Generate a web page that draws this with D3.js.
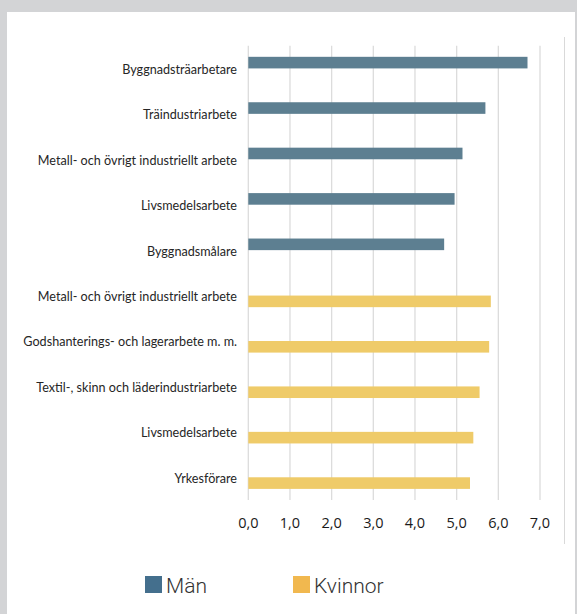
<!DOCTYPE html>
<html>
<head>
<meta charset="utf-8">
<script src="https://cdn.jsdelivr.net/npm/d3@7"></script>
<style>
  body { margin: 0; background: #d3d4d6; }
  svg { display: block; }
</style>
</head>
<body>
<div id="chart"></div>
<script>
// categories top to bottom, and which series each belongs to
var categories = [
    "Byggnadsträarbetare",
    "Träindustriarbete",
    "Metall- och övrigt industriellt arbete",
    "Livsmedelsarbete",
    "Byggnadsmålare",
    "Metall- och övrigt industriellt arbete ",
    "Godshanterings- och lagerarbete m. m.",
    "Textil-, skinn och läderindustriarbete",
    "Livsmedelsarbete ",
    "Yrkesförare"
];
var series = ["Män", "Kvinnor"];
var seriesOf = ["Män", "Män", "Män", "Män", "Män", "Kvinnor", "Kvinnor", "Kvinnor", "Kvinnor", "Kvinnor"];
var values = [6.7, 5.69, 5.14, 4.95, 4.7, 5.82, 5.78, 5.55, 5.4, 5.32];
var ticks = [0, 1, 2, 3, 4, 5, 6, 7];

var width = 577, height = 614;

var svg = d3.select("#chart")
    .append("svg")
    .attr("width", width)
    .attr("height", height);

// white panel on the grey page
svg.append("rect")
    .attr("x", 7).attr("y", 12)
    .attr("width", 568).attr("height", height - 12)
    .attr("fill", "#fff");

// chart area right border
svg.append("line")
    .attr("x1", 564.5).attr("x2", 564.5)
    .attr("y1", 37).attr("y2", 544)
    .attr("stroke", "#d9d9d9").attr("stroke-width", 1);

var x = d3.scaleLinear()
    .domain([0, 7])
    .range([248.3, 540]);

var y = d3.scaleBand()
    .domain(categories)
    .range([45.7, 500]);

//inner band: men on top half, women below the centre
var barH = 11.6;
var y1 = d3.scaleBand()
    .domain(series)
    .range([y.bandwidth() / 2 - barH, y.bandwidth() / 2 + barH]);

var color = { "Män": "#5d7f91", "Kvinnor": "#efcb69" };
var legendColor = { "Män": "#446f8d", "Kvinnor": "#f1b84f" };

// gridlines
svg.append("g")
    .selectAll("line")
    .data(ticks)
    .enter()
    .append("line")
    .attr("x1", d => x(d)).attr("x2", d => x(d))
    .attr("y1", 45.7).attr("y2", 500)
    .attr("stroke", "#dcdcdc")
    .attr("stroke-width", 1.3);

// bars
svg.append("g")
    .selectAll("rect")
    .data(categories)
    .enter()
    .append("rect")
    .attr("x", x(0))
    .attr("y", (d, i) => y(d) + y1(seriesOf[i]))
    .attr("width", (d, i) => x(values[i]) - x(0))
    .attr("height", y1.bandwidth())
    .attr("fill", (d, i) => color[seriesOf[i]]);

// category labels
svg.append("g")
    .selectAll("text")
    .data(categories)
    .enter()
    .append("text")
    .attr("x", 237)
    .attr("y", d => y(d) + y.bandwidth() / 2 + 1)
    .attr("dy", "0.35em")
    .attr("text-anchor", "end")
    .attr("font-family", "Lato, 'Open Sans', sans-serif")
    .attr("font-size", "12.6px")
    .attr("fill", "#262626")
    .text(d => d.trim());

// x axis tick labels
svg.append("g")
    .selectAll("text")
    .data(ticks)
    .enter()
    .append("text")
    .attr("x", d => x(d))
    .attr("y", 523)
    .attr("dy", "0.35em")
    .attr("text-anchor", "middle")
    .attr("font-family", "'Open Sans', sans-serif")
    .attr("font-size", "14.5px")
    .attr("fill", "#1a1a1a")
    .text(d => d3.format(".1f")(d).replace(".", ","));

// legend
var legendX = [145, 293];
var legend = svg.append("g")
    .selectAll("g")
    .data(series)
    .enter()
    .append("g")
    .attr("transform", (d, i) => "translate(" + legendX[i] + ",576)");

legend.append("rect")
    .attr("width", 17).attr("height", 17)
    .attr("fill", d => legendColor[d]);

legend.append("text")
    .attr("x", 21)
    .attr("y", 17)
    .attr("font-family", "Roboto, 'Liberation Sans', sans-serif")
    .attr("font-weight", 300)
    .attr("font-size", "21px")
    .attr("fill", "#333")
    .text(d => d);
</script>
</body>
</html>
